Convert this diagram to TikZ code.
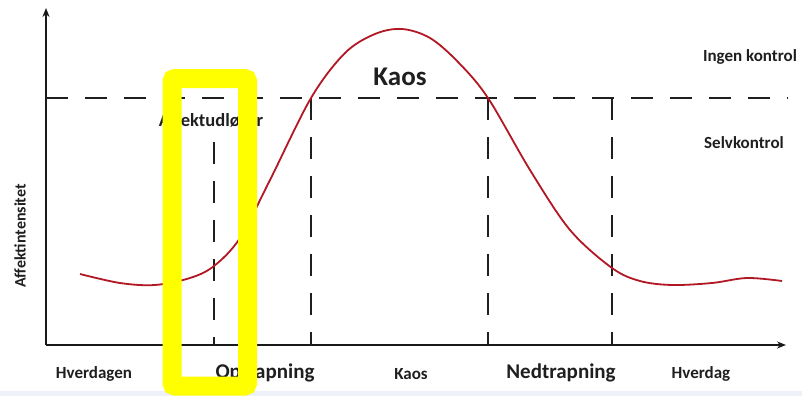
\documentclass[tikz,border=0pt]{standalone}
\usepackage{fontspec}
\setmainfont{Carlito}
\usetikzlibrary{arrows.meta}
\definecolor{curvered}{RGB}{178,24,36}
\definecolor{bandblue}{RGB}{238,241,250}
\definecolor{hilite}{RGB}{255,255,0}
\tikzset{
  axisline/.style={line width=2pt, draw=black!90, -{Stealth[length=9pt,width=7pt]}},
  dashline/.style={line width=2pt, draw=black!88, dash pattern=on 22pt off 17pt},
  lbl/.style={inner sep=0pt, font=\bfseries, text=black!88},
}
\begin{document}
\begin{tikzpicture}[x=1pt,y=-1pt]
\useasboundingbox (0,0) rectangle (802,396);
\fill[white] (0,0) rectangle (802,396);
\fill[bandblue] (0,391) rectangle (802,396);
% axes
\coordinate (O) at (46,345);
\coordinate (ytop) at (46,8);
\coordinate (xend) at (786,345);
\draw[axisline] (O) -- (ytop);
\draw[axisline] (O) -- (xend);
% dashed lines
\coordinate (hl) at (46,98);
\coordinate (hr) at (788,98);
\draw[dashline] (hl) -- (hr);
\coordinate (v1t) at (214,142); \coordinate (v1b) at (214,345);
\coordinate (v2t) at (311,98);  \coordinate (v2b) at (311,345);
\coordinate (v3t) at (488,98);  \coordinate (v3b) at (488,345);
\coordinate (v4t) at (612,98);  \coordinate (v4b) at (612,345);
\draw[dashline] (v1t) -- (v1b);
\draw[dashline] (v2t) -- (v2b);
\draw[dashline] (v3t) -- (v3b);
\draw[dashline] (v4t) -- (v4b);
% curve
\draw[curvered, line width=1.8pt] plot[smooth, tension=0.55] coordinates {
 (80,274) (120,283) (155,285) (190,278) (214,266) (240,238) (270,180)
 (311,98) (345,53) (375,34) (402,29) (430,38) (458,62) (488,98)
 (530,170) (570,230) (612,268) (640,281) (672,285) (712,283) (747,278) (782,281)};
% texts
\node[lbl, font=\bfseries\fontsize{27}{30}\selectfont] (kaosbig) at (400,77) {Kaos};
\node[lbl, font=\bfseries\fontsize{17}{20}\selectfont] (ingen) at (750,57) {Ingen kontrol};
\node[lbl, font=\bfseries\fontsize{17}{20}\selectfont] (selv) at (744,143) {Selvkontrol};
\node[lbl, font=\bfseries\fontsize{18.5}{21}\selectfont] (udl) at (211,120) {Affektudløser};
\node[lbl, font=\bfseries\fontsize{16}{19}\selectfont, rotate=90] (yl) at (20,236) {Affektintensitet};
\node[lbl, font=\bfseries\fontsize{17}{20}\selectfont] (b1) at (94,374) {Hverdagen};
\node[lbl, font=\bfseries\fontsize{21}{24}\selectfont] (b2) at (265,373) {Optrapning};
\node[lbl, font=\bfseries\fontsize{17}{20}\selectfont] (b3) at (411,374) {Kaos};
\node[lbl, font=\bfseries\fontsize{21}{24}\selectfont] (b4) at (561,373) {Nedtrapning};
\node[lbl, font=\bfseries\fontsize{17}{20}\selectfont] (b5) at (701,374) {Hverdag};
% yellow highlight
\draw[hilite, line width=19pt, rounded corners=3pt] (172,78.5) rectangle (247.5,386);
\end{tikzpicture}
\end{document}
